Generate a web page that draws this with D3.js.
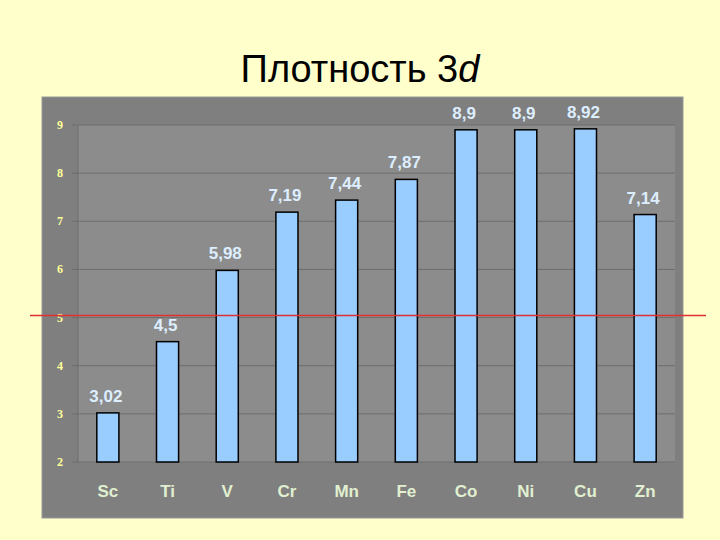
<!DOCTYPE html>
<html><head><meta charset="utf-8">
<script src="https://cdn.jsdelivr.net/npm/d3@7"></script>
<style>body{margin:0;background:#ffffcc}</style>
</head><body>
<svg id="chart" width="720" height="540"></svg>
<script>
var elements = ["Sc", "Ti", "V", "Cr", "Mn", "Fe", "Co", "Ni", "Cu", "Zn"];
var density = [3.02, 4.5, 5.98, 7.19, 7.44, 7.87, 8.9, 8.9, 8.92, 7.14];
var densityLabels = ["3,02", "4,5", "5,98", "7,19", "7,44", "7,87", "8,9", "8,9", "8,92", "7,14"];
var yTicks = [2, 3, 4, 5, 6, 7, 8, 9];
var refLine = 5;

var svg = d3.select("#chart");
svg.append("rect").attr("width", 720).attr("height", 540).attr("fill", "#ffffcc");

var title = svg.append("text").attr("x", 360).attr("y", 82).attr("text-anchor", "middle")
    .style("font-family", "Arial, 'Liberation Sans', sans-serif").style("font-size", "38px").attr("fill", "#000");
title.append("tspan").text("Плотность 3");
title.append("tspan").style("font-style", "italic").text("d");

// gray panel
svg.append("rect").attr("x", 42).attr("y", 97).attr("width", 641).attr("height", 421)
    .attr("fill", "#7f7f7f").attr("stroke", "#999").attr("stroke-width", 1);

var x = d3.scaleBand().domain(elements).range([78, 675]).paddingInner(0.63).paddingOuter(0.315);
var y = d3.scaleLinear().domain([2, 9]).range([462, 125]);

svg.append("rect").attr("x", 78).attr("y", 125).attr("width", 597).attr("height", 337).attr("fill", "#8c8c8c");

svg.selectAll(".grid").data(yTicks).enter().append("line")
    .attr("x1", 72).attr("x2", 675)
    .attr("y1", function(d) { return y(d); }).attr("y2", function(d) { return y(d); })
    .attr("stroke", "#6e6e6e").attr("stroke-width", 1);
svg.append("line").attr("x1", 78).attr("x2", 78).attr("y1", 125).attr("y2", 462).attr("stroke", "#6e6e6e");

svg.selectAll(".ytick").data(yTicks).enter().append("text")
    .attr("x", 60).attr("y", function(d) { return y(d) + 4; }).attr("text-anchor", "middle")
    .style("font-family", "'Liberation Serif', serif").style("font-size", "12px").style("font-weight", "bold")
    .attr("fill", "#ffff99").text(function(d) { return d; });

svg.selectAll(".bar").data(density).enter().append("rect")
    .attr("x", function(d, i) { return x(elements[i]); })
    .attr("y", function(d) { return y(d); })
    .attr("width", x.bandwidth())
    .attr("height", function(d) { return y(2) - y(d); })
    .attr("fill", "#99ccff").attr("stroke", "#000").attr("stroke-width", 1.5);

svg.selectAll(".val").data(density).enter().append("text")
    .attr("x", function(d, i) { return x(elements[i]) + x.bandwidth() / 2 - 2; })
    .attr("y", function(d) { return y(d) - 11; })
    .attr("text-anchor", "middle")
    .style("font-family", "Arial, 'Liberation Sans', sans-serif").style("font-size", "17px").style("font-weight", "bold")
    .attr("fill", "#ddeeff").text(function(d, i) { return densityLabels[i]; });

svg.selectAll(".cat").data(elements).enter().append("text")
    .attr("x", function(d) { return x(d) + x.bandwidth() / 2; })
    .attr("y", 497).attr("text-anchor", "middle")
    .style("font-family", "Arial, 'Liberation Sans', sans-serif").style("font-size", "17px").style("font-weight", "bold")
    .attr("fill", "#e0f0d0").text(function(d) { return d; });

svg.append("line").attr("x1", 30).attr("x2", 706).attr("y1", y(refLine) - 2).attr("y2", y(refLine) - 2)
    .attr("stroke", "#e03030").attr("stroke-width", 1.5);
</script>
</body></html>
